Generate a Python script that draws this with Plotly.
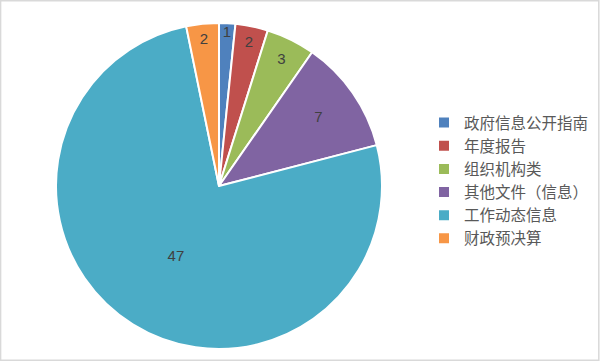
import plotly.graph_objects as go

labels = ["政府信息公开指南", "年度报告", "组织机构类", "其他文件（信息）", "工作动态信息", "财政预决算"]
values = [1, 2, 3, 7, 47, 2]
colors = ["#4F81BD", "#C0504D", "#9BBB59", "#8064A2", "#4BACC6", "#F79646"]

W, H = 600, 361
fig = go.Figure(go.Pie(
    labels=labels, values=values, sort=False, direction="clockwise", rotation=0,
    marker=dict(colors=colors, line=dict(color="white", width=2)),
    textinfo="value", textposition="inside", insidetextorientation="horizontal",
    textfont=dict(size=15, color="#404040", family="Liberation Sans, Arial"),
    domain=dict(x=[56/W, 382/W], y=[(H-352)/H, (H-20)/H]),
    hoverinfo="label+value",
))
fig.update_layout(
    width=W, height=H, margin=dict(l=0, r=0, t=0, b=0),
    paper_bgcolor="white", plot_bgcolor="white",
    font=dict(family="Noto Sans CJK SC, sans-serif", color="#595959", size=15),
    uniformtext=dict(minsize=15, mode="show"),
    legend=dict(x=424/W, y=0.5, xanchor="left", yanchor="middle",
                font=dict(size=15.5, color="#595959", family="Noto Sans CJK SC"),
                itemwidth=30, tracegroupgap=0, bgcolor="rgba(0,0,0,0)"),
    shapes=[dict(type="rect", xref="paper", yref="paper", x0=0.001, y0=0.002, x1=0.998, y1=0.998,
                 line=dict(color="#D9D9D9", width=1.5))],
)
fig.write_html("out.html")
